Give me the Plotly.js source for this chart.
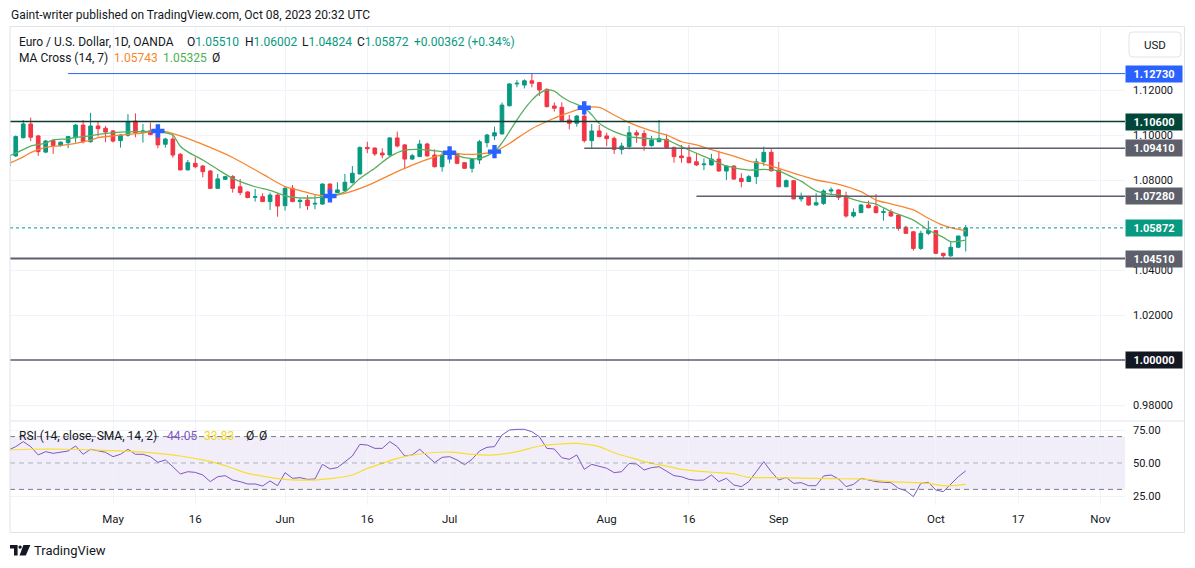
<!DOCTYPE html>
<html><head><meta charset="utf-8">
<script src="https://cdn.plot.ly/plotly-3.0.1.min.js"></script>
<style>html,body{margin:0;padding:0;background:#fff;}#chart{width:1195px;height:568px;}</style>
</head><body><div id="chart"></div>
<script>
// ---------- DATA ----------
const days = [
'04-11','04-12','04-13','04-14','04-17','04-18','04-19','04-20','04-21','04-24','04-25','04-26','04-27','04-28',
'05-01','05-02','05-03','05-04','05-05','05-08','05-09','05-10','05-11','05-12','05-15','05-16','05-17','05-18','05-19','05-22','05-23','05-24','05-25','05-26','05-29','05-30','05-31',
'06-01','06-02','06-05','06-06','06-07','06-08','06-09','06-12','06-13','06-14','06-15','06-16','06-19','06-20','06-21','06-22','06-23','06-26','06-27','06-28','06-29','06-30',
'07-03','07-04','07-05','07-06','07-07','07-10','07-11','07-12','07-13','07-14','07-17','07-18','07-19','07-20','07-21','07-24','07-25','07-26','07-27','07-28','07-31',
'08-01','08-02','08-03','08-04','08-07','08-08','08-09','08-10','08-11','08-14','08-15','08-16','08-17','08-18','08-21','08-22','08-23','08-24','08-25','08-28','08-29','08-30','08-31',
'09-01','09-04','09-05','09-06','09-07','09-08','09-11','09-12','09-13','09-14','09-15','09-18','09-19','09-20','09-21','09-22','09-25','09-26','09-27','09-28','09-29',
'10-02','10-03','10-04','10-05','10-06'];

const openP = [
1.0862,1.0907,1.0988,1.1049,1.0996,1.0924,1.0975,1.0953,1.0966,1.0988,1.1044,1.0970,1.1040,1.1030,
1.1018,1.0975,1.0999,1.1062,1.1013,1.1018,1.1007,1.0959,1.0982,1.0914,1.0845,1.0874,1.0862,1.0840,1.0763,1.0803,1.0815,1.0770,1.0747,1.0723,1.0726,1.0704,1.0733,
1.0686,1.0763,1.0704,1.0711,1.0693,1.0693,1.0782,1.0744,1.0753,1.0788,1.0827,1.0945,1.0942,1.0920,1.0911,1.0987,1.0956,1.0893,1.0904,1.0960,1.0911,1.0859,
1.0916,1.0916,1.0877,1.0852,1.0889,1.0966,1.0996,1.1005,1.1130,1.1227,1.1222,1.1241,1.1233,1.1203,1.1129,1.1123,1.1067,1.1052,1.1084,1.0975,1.1018,
1.0996,1.0985,1.0936,1.0948,1.1010,1.1007,1.0953,1.0970,1.0981,1.0945,1.0907,1.0901,1.0881,1.0868,1.0867,1.0893,1.0840,1.0862,1.0807,1.0793,1.0815,1.0881,1.0923,
1.0844,1.0770,1.0797,1.0716,1.0726,1.0689,1.0696,1.0751,1.0756,1.0729,1.0640,1.0655,1.0689,1.0681,1.0656,1.0659,1.0644,1.0590,1.0570,1.0496,1.0563,
1.0575,1.0474,1.0463,1.0501,1.05510];
const highP = [
1.0925,1.0998,1.1067,1.1077,1.1000,1.0978,1.0981,1.0972,1.0996,1.1049,1.1067,1.1099,1.1062,1.1040,
1.1022,1.1005,1.1093,1.1096,1.1049,1.1055,1.1015,1.0988,1.1000,1.0920,1.0889,1.0901,1.0867,1.0845,1.0827,1.0818,1.0822,1.0805,1.0750,1.0760,1.0741,1.0744,1.0741,
1.0770,1.0778,1.0720,1.0733,1.0733,1.0785,1.0785,1.0790,1.0827,1.0862,1.0948,1.0970,1.0945,1.0941,1.0990,1.1015,1.0960,1.0916,1.0978,1.0966,1.0936,1.0926,
1.0945,1.0920,1.0880,1.0896,1.0978,1.1005,1.1037,1.1144,1.1230,1.1244,1.1247,1.1274,1.1236,1.1207,1.1145,1.1145,1.1089,1.1089,1.1148,1.1049,1.1044,
1.1010,1.0993,1.0966,1.1040,1.1022,1.1022,1.0996,1.1067,1.1004,1.0948,1.0956,1.0956,1.0921,1.0896,1.0916,1.0930,1.0863,1.0865,1.0830,1.0822,1.0896,1.0948,1.0938,
1.0881,1.0803,1.0800,1.0744,1.0730,1.0741,1.0759,1.0767,1.0759,1.0748,1.0674,1.0693,1.0708,1.0738,1.0674,1.0670,1.0649,1.0596,1.0572,1.0575,1.0619,
1.0578,1.0477,1.0526,1.0552,1.06002];
const lowP = [
1.0850,1.0903,1.0985,1.0973,1.0907,1.0919,1.0916,1.0948,1.0941,1.0966,1.0963,1.0966,1.0993,1.0968,
1.0966,1.0944,1.0993,1.0990,1.0966,1.0999,1.0941,1.0944,1.0899,1.0843,1.0843,1.0852,1.0812,1.0760,1.0760,1.0800,1.0744,1.0733,1.0719,1.0704,1.0702,1.0667,1.0637,
1.0664,1.0702,1.0674,1.0667,1.0670,1.0690,1.0740,1.0741,1.0750,1.0785,1.0825,1.0919,1.0907,1.0896,1.0908,1.0945,1.0848,1.0889,1.0902,1.0904,1.0856,1.0837,
1.0874,1.0870,1.0850,1.0833,1.0871,1.0945,1.0978,1.1002,1.1127,1.1212,1.1207,1.1212,1.1173,1.1123,1.1104,1.1062,1.1025,1.1037,1.0966,1.0941,1.0990,
1.0951,1.0916,1.0914,1.0936,1.0966,1.0930,1.0948,1.0970,1.0941,1.0877,1.0877,1.0874,1.0862,1.0844,1.0865,1.0837,1.0800,1.0802,1.0767,1.0792,1.0782,1.0862,1.0837,
1.0768,1.0768,1.0714,1.0704,1.0686,1.0686,1.0689,1.0733,1.0711,1.0633,1.0633,1.0654,1.0674,1.0652,1.0619,1.0637,1.0575,1.0560,1.0486,1.0489,1.0555,
1.0471,1.0452,1.0459,1.0500,1.04824];
const closeP = [
1.0911,1.0993,1.1049,1.0990,1.0926,1.0973,1.0953,1.0968,1.0993,1.1044,1.0970,1.1040,1.1028,1.1013,
1.0973,1.1000,1.1059,1.1010,1.1018,1.1002,1.0956,1.0982,1.0911,1.0845,1.0877,1.0859,1.0837,1.0763,1.0805,1.0815,1.0763,1.0744,1.0722,1.0726,1.0704,1.0733,1.0684,
1.0763,1.0704,1.0710,1.0686,1.0696,1.0782,1.0744,1.0756,1.0790,1.0830,1.0945,1.0939,1.0916,1.0911,1.0987,1.0951,1.0893,1.0908,1.0960,1.0907,1.0859,1.0911,
1.0920,1.0874,1.0852,1.0892,1.0970,1.1000,1.1010,1.1133,1.1227,1.1230,1.1241,1.1230,1.1200,1.1126,1.1119,1.1064,1.1052,1.1084,1.0975,1.1018,1.0993,
1.0984,1.0936,1.0951,1.1010,1.1000,1.0953,1.0978,1.0984,1.0944,1.0904,1.0899,1.0877,1.0867,1.0871,1.0893,1.0840,1.0862,1.0804,1.0793,1.0815,1.0881,1.0923,1.0841,
1.0770,1.0797,1.0716,1.0726,1.0689,1.0699,1.0751,1.0756,1.0723,1.0640,1.0656,1.0689,1.0677,1.0655,1.0659,1.0640,1.0585,1.0563,1.0496,1.0563,1.0575,
1.0474,1.0464,1.0501,1.0551,1.05872];

// MA Cross (14, 7) lines
const maLongDays = ['04-11','04-13','04-14','04-18','04-20','04-24','04-26','04-27','05-01','05-03','05-05','05-09','05-10','05-12','05-17','05-23','05-29','06-01','06-05','06-07','06-09','06-13','06-16','06-21','06-26','06-29','07-03','07-05','07-07','07-11','07-13','07-14','07-18','07-20','07-24','07-27','07-31','08-02','08-04','08-09','08-11','08-15','08-17','08-21','08-24','08-28','08-30','09-01','09-06','09-08','09-13','09-18','09-20','09-22','09-27','09-29','10-03','10-04','10-06'];
const maLongVals = [1.0872,1.0903,1.0922,1.0945,1.0953,1.0963,1.0977,1.0988,1.0996,1.1003,1.1009,1.1018,1.1015,1.0996,1.0958,1.0900,1.0826,1.0771,1.0753,1.0735,1.0729,1.0741,1.0775,1.0822,1.0866,1.0903,1.0921,1.0914,1.0916,1.0926,1.0962,1.0985,1.1028,1.1060,1.1088,1.1121,1.1123,1.1089,1.1055,1.1018,1.1000,1.0970,1.0956,1.0935,1.0906,1.0884,1.0871,1.0852,1.0820,1.0800,1.0781,1.0748,1.0711,1.0694,1.0667,1.0630,1.0598,1.0588,1.05743];
const maShortDays = ['04-11','04-13','04-14','04-18','04-19','04-21','04-24','04-26','04-27','05-01','05-02','05-04','05-05','05-09','05-10','05-11','05-12','05-15','05-17','05-19','05-23','05-26','05-30','06-01','06-05','06-07','06-09','06-13','06-15','06-19','06-21','06-23','06-27','06-29','07-03','07-05','07-07','07-11','07-12','07-13','07-14','07-17','07-18','07-19','07-20','07-21','07-24','07-25','07-27','07-28','07-31','08-02','08-04','08-09','08-11','08-15','08-17','08-21','08-23','08-28','08-30','09-01','09-05','09-06','09-07','09-08','09-12','09-13','09-18','09-20','09-22','09-27','09-29','10-03','10-04','10-06'];
const maShortVals = [1.0905,1.0935,1.0951,1.0964,1.0978,1.0983,1.0990,1.0996,1.1003,1.1010,1.1013,1.1015,1.1015,1.1018,1.1010,1.1000,1.0950,1.0925,1.0889,1.0847,1.0807,1.0770,1.0754,1.0730,1.0721,1.0721,1.0729,1.0748,1.0807,1.0852,1.0904,1.0933,1.0936,1.0930,1.0921,1.0899,1.0896,1.0926,1.0965,1.1015,1.1067,1.1115,1.1155,1.1185,1.1200,1.1195,1.1170,1.1150,1.1121,1.1090,1.1052,1.1015,1.0993,1.0983,1.0978,1.0948,1.0919,1.0891,1.0863,1.0844,1.0847,1.0840,1.0810,1.0795,1.0772,1.0752,1.0736,1.0734,1.0704,1.0693,1.0660,1.0622,1.0578,1.0545,1.0526,1.05325];
const crossDays = ['05-09','06-09','07-03','07-11','07-27'];
const crossVals = [1.1018,1.0729,1.0921,1.0926,1.1121];

// RSI (14) per bar, and its SMA (14)
const rsiVals = [
59.8,62.4,66.2,62.4,56.1,58.6,57.3,58.1,59.1,62.9,56.6,60.4,59.3,58.1,
54.8,56.6,60.4,56.6,56.6,54.8,50.5,52.3,47.2,41.7,43.4,42.9,40.9,35.9,39.6,40.4,37.1,35.9,34.1,34.1,32.6,36.4,32.8,
42.7,38.4,38.9,37.6,37.9,49.0,45.5,46.5,51.0,55.3,64.1,63.6,61.1,61.1,66.2,62.4,55.3,56.1,60.4,55.3,50.3,54.3,
54.8,52.3,48.7,52.8,59.1,61.9,62.4,71.2,75.0,75.5,75.5,73.7,69.9,61.1,60.6,54.0,52.8,56.1,45.2,49.0,47.7,
46.0,42.7,43.4,49.7,49.2,44.7,46.5,47.2,43.9,40.4,39.6,37.6,36.9,37.1,40.9,35.9,38.4,33.3,32.1,35.9,43.4,51.0,43.4,
37.1,39.1,34.6,35.1,32.8,32.8,40.2,40.9,37.9,32.1,33.8,38.4,37.1,35.9,35.4,35.1,30.8,29.0,24.5,34.6,35.4,
29.5,28.3,34.1,39.6,44.05];
const rsiMaDays = ['04-11','04-14','04-21','04-27','05-04','05-09','05-12','05-17','05-19','05-23','05-25','05-30','06-01','06-05','06-07','06-09','06-14','06-16','06-20','06-22','06-27','07-03','07-06','07-11','07-14','07-19','07-21','07-26','07-31','08-02','08-07','08-09','08-11','08-15','08-18','08-22','08-24','08-28','08-31','09-05','09-12','09-18','09-22','09-29','10-03','10-04','10-06'];
const rsiMaVals = [59.8,60.4,60.4,59.8,58.6,57.3,55.3,52.3,49.7,46.0,42.2,39.1,37.6,37.1,37.1,38.1,40.9,45.9,49.7,53.5,56.8,58.3,56.6,56.1,58.6,62.9,64.1,64.9,62.4,57.8,52.8,49.7,47.7,45.2,43.4,42.7,41.7,39.1,38.9,38.7,38.1,37.9,35.9,34.6,32.8,32.8,33.83];
const rsiLevels = [70, 50, 30];

// Horizontal drawn levels
const levelVals   = [1.1273, 1.1060, 1.0941, 1.0728, 1.0451, 1.0000];
const levelStarts = ['04-21', null, '07-27', '08-17', null, null];
const levelLabels = ['1.12730','1.10600','1.09410','1.07280','1.04510','1.00000'];

// Axis ticks (1.06 and 1.00 labels sit under price tags, so only their grid lines are drawn)
const xTickDays   = ['05-01','05-16','06-01','06-16','07-03','08-01','08-16','09-01','10-02','10-17','11-01'];
const xTickLabels = ['May','16','Jun','16','Jul','Aug','16','Sep','Oct','17','Nov'];
const yTickVals   = [0.98,1.02,1.04,1.08,1.10,1.12];
const yGridOnly   = [1.00,1.06];
const rsiTickVals = [25,50,75];

// ---------- STYLE / LAYOUT ----------
const W=1195, H=568;
const px = x => x/W, py = y => 1 - y/H;
const D = s => '2023-' + s + ' 12:00';
const dates = days.map(D);
const xRange = ['2023-04-11 17:30', '2023-11-06 19:00'];
const FONT = 'Roboto, "Noto Sans", sans-serif';
const TXT = '#131722';
const GRID = '#f0f3fa';

const traces = [
  {type:'candlestick', x:dates, open:openP, high:highP, low:lowP, close:closeP,
   xaxis:'x', yaxis:'y', whiskerwidth:0, hoverinfo:'skip',
   increasing:{line:{color:'#089981', width:1}, fillcolor:'#089981'},
   decreasing:{line:{color:'#f23645', width:1}, fillcolor:'#f23645'}},
  {type:'scatter', mode:'lines', x:maLongDays.map(D), y:maLongVals, xaxis:'x', yaxis:'y',
   line:{color:'#f7862f', width:1.3, shape:'spline', smoothing:0.7}, hoverinfo:'skip'},
  {type:'scatter', mode:'lines', x:maShortDays.map(D), y:maShortVals, xaxis:'x', yaxis:'y',
   line:{color:'#5aaf5e', width:1.3, shape:'spline', smoothing:0.7}, hoverinfo:'skip'},
  {type:'scatter', mode:'markers', x:crossDays.map(D), y:crossVals, xaxis:'x', yaxis:'y',
   marker:{symbol:'cross', size:11, color:'#2962ff', line:{width:0}}, hoverinfo:'skip'},
  {type:'scatter', mode:'lines', x:dates, y:rsiVals, xaxis:'x', yaxis:'y2',
   line:{color:'#7e57c2', width:1}, hoverinfo:'skip'},
  {type:'scatter', mode:'lines', x:rsiMaDays.map(D), y:rsiMaVals, xaxis:'x', yaxis:'y2',
   line:{color:'#f7df2e', width:1.2, shape:'spline', smoothing:0.8}, hoverinfo:'skip'}
];

const shapes = [];
// grid-only lines for hidden tick labels
yGridOnly.forEach(v=>shapes.push({type:'line', xref:'x domain', yref:'y', x0:0, x1:1, y0:v, y1:v,
  line:{color:GRID, width:1}, layer:'below'}));
// RSI band and levels
shapes.push({type:'rect', xref:'x domain', yref:'y2', x0:0, x1:1, y0:rsiLevels[2], y1:rsiLevels[0],
  fillcolor:'rgba(126,87,194,0.1)', line:{width:0}, layer:'below'});
rsiLevels.forEach((v,i)=>shapes.push({type:'line', xref:'x domain', yref:'y2', x0:0, x1:1, y0:v, y1:v,
  line:{color: i===1 ? 'rgba(120,123,134,0.55)' : '#787b86', width:1, dash:'5px,4px'}}));
// horizontal levels
const levelColors = ['#2962ff','#0d3b30','#5d606b','#5d606b','#5d606b','#131722'];
const levelWidths = [1, 1.5, 1.5, 1.5, 2, 1];
const tagColors   = ['#2962ff','#00473a','#5d606b','#5d606b','#5d606b','#131722'];
levelVals.forEach((v,i)=>{
  if (levelStarts[i]) {
    shapes.push({type:'line', xref:'x', yref:'y', x0:D(levelStarts[i]), x1:xRange[1], y0:v, y1:v,
      line:{color:levelColors[i], width:levelWidths[i]}});
  } else {
    shapes.push({type:'line', xref:'x domain', yref:'y', x0:0, x1:1, y0:v, y1:v,
      line:{color:levelColors[i], width:levelWidths[i]}});
  }
});
const lastClose = closeP[closeP.length-1];
shapes.push({type:'line', xref:'x domain', yref:'y', x0:0, x1:1, y0:lastClose, y1:lastClose,
  line:{color:'#089981', width:1, dash:'dot'}});
// pane separator and frame
shapes.push({type:'line', xref:'paper', yref:'paper', x0:px(10), x1:px(1184), y0:py(421), y1:py(421),
  line:{color:'#e0e3eb', width:1}});
shapes.push({type:'rect', xref:'paper', yref:'paper', x0:px(10), x1:px(1184.5), y0:py(532.5), y1:py(26.5),
  line:{color:'#e0e3eb', width:1}, fillcolor:'rgba(0,0,0,0)'});
// USD button (rounded)
(function(){
  const x0=1129,x1=1181,y0=32,y1=57,r=4;
  const P=(x,y)=>px(x)+','+py(y);
  const path = 'M'+P(x0+r,y0)+' L'+P(x1-r,y0)+' Q'+P(x1,y0)+' '+P(x1,y0+r)+' L'+P(x1,y1-r)+' Q'+P(x1,y1)+' '+P(x1-r,y1)+
    ' L'+P(x0+r,y1)+' Q'+P(x0,y1)+' '+P(x0,y1-r)+' L'+P(x0,y0+r)+' Q'+P(x0,y0)+' '+P(x0+r,y0)+' Z';
  shapes.push({type:'path', xref:'paper', yref:'paper', path:path, line:{color:'#e0e3eb', width:1}, fillcolor:'#ffffff'});
})();
// TradingView logo
(function(){
  const P=(x,y)=>px(x)+','+py(y);
  shapes.push({type:'path', xref:'paper', yref:'paper', line:{width:0}, fillcolor:TXT,
    path:'M'+P(10,545)+' L'+P(17.6,545)+' L'+P(17.6,555.5)+' L'+P(14,555.5)+' L'+P(14,548.6)+' L'+P(10,548.6)+' Z'});
  shapes.push({type:'circle', xref:'paper', yref:'paper', x0:px(18.4), x1:px(21.8), y0:py(548.8), y1:py(545.4),
    line:{width:0}, fillcolor:TXT});
  shapes.push({type:'path', xref:'paper', yref:'paper', line:{width:0}, fillcolor:TXT,
    path:'M'+P(23.4,545)+' L'+P(30.4,545)+' L'+P(25.8,555.5)+' L'+P(19.6,555.5)+' Z'});
})();

const annotations = [];
function txt(x, y, text, size, color, extra){
  annotations.push(Object.assign({xref:'paper', yref:'paper', x:px(x), y:py(y), xanchor:'left', yanchor:'middle',
    text:text, showarrow:false, font:{family:FONT, size:size, color:color||TXT}, borderpad:0}, extra||{}));
}
const G = s => '<span style="color:#089981">'+s+'</span>';
const HS = 12;
txt(10, 15, 'Gaint-writer published on TradingView.com, Oct 08, 2023 20:32 UTC', HS);
txt(18, 42, 'Euro / U.S. Dollar, 1D, OANDA', HS);
txt(186, 42, 'O'+G(openP[openP.length-1].toFixed(5)), HS);
txt(244, 42, 'H'+G(highP[highP.length-1].toFixed(5)), HS);
txt(301, 42, 'L'+G(lowP[lowP.length-1].toFixed(5)), HS);
txt(356, 42, 'C'+G(lastClose.toFixed(5)), HS);
txt(413, 42, G('+0.00362 (+0.34%)'), HS);
txt(18, 58, 'MA Cross (14, 7)', HS);
txt(113, 58, maLongVals[maLongVals.length-1].toFixed(5), HS, '#f7862f');
txt(162, 58, maShortVals[maShortVals.length-1].toFixed(5), HS, '#4caf50');
txt(211, 58, 'Ø', HS);
txt(18, 436, 'RSI (14, close, SMA, 14, 2)', HS);
txt(166, 436, rsiVals[rsiVals.length-1].toFixed(2), HS, '#7e57c2');
txt(203, 436, rsiMaVals[rsiMaVals.length-1].toFixed(2), HS, '#f2d820');
txt(245, 436, 'Ø', HS);
txt(258, 436, 'Ø', HS);
txt(33, 550, 'TradingView', 13);
annotations.push({xref:'paper', yref:'paper', x:px(1155), y:py(44.5), xanchor:'center', yanchor:'middle',
  text:'USD', showarrow:false, font:{family:FONT, size:11.5, color:TXT}});
// price tags
function tag(v, label, bg){
  annotations.push({xref:'paper', yref:'y', x:px(1125), y:v, xanchor:'left', yanchor:'middle',
    text:'<b>'+label+'</b>', showarrow:false, bgcolor:bg, borderpad:1, width:54, height:14, align:'center',
    font:{family:FONT, size:11, color:'#ffffff'}});
}
levelVals.forEach((v,i)=>tag(v, levelLabels[i], tagColors[i]));
tag(lastClose, lastClose.toFixed(5), '#089981');

const layout = {
  width:W, height:H, margin:{l:0,r:0,t:0,b:0}, paper_bgcolor:'#ffffff', plot_bgcolor:'#ffffff',
  showlegend:false, hovermode:false, font:{family:FONT, size:11, color:TXT},
  xaxis:{type:'date', domain:[px(10), px(1125)], range:xRange, anchor:'y2',
    rangebreaks:[{bounds:['sat','mon']}], rangeslider:{visible:false},
    tickmode:'array', tickvals:xTickDays.map(D), ticktext:xTickLabels,
    showgrid:true, gridcolor:GRID, gridwidth:1, zeroline:false, showline:false, ticks:'',
    tickfont:{family:FONT, size:11.5, color:TXT}, ticklabelstandoff:5, fixedrange:true},
  yaxis:{domain:[py(421), py(27)], range:[0.97289, 1.148], side:'right', anchor:'x',
    tickmode:'array', tickvals:yTickVals, tickformat:'.5f', showgrid:true, gridcolor:GRID,
    zeroline:false, showline:false, ticks:'', tickfont:{family:FONT, size:11, color:TXT}, ticklabelstandoff:7},
  yaxis2:{domain:[py(505), py(421)], range:[18.18, 81.82], side:'right', anchor:'x',
    tickmode:'array', tickvals:rsiTickVals, tickformat:'.2f', showgrid:true, gridcolor:GRID,
    zeroline:false, showline:false, ticks:'', tickfont:{family:FONT, size:11, color:TXT}, ticklabelstandoff:7},
  shapes:shapes, annotations:annotations
};

Plotly.newPlot('chart', traces, layout, {staticPlot:true, displayModeBar:false});
</script></body></html>
